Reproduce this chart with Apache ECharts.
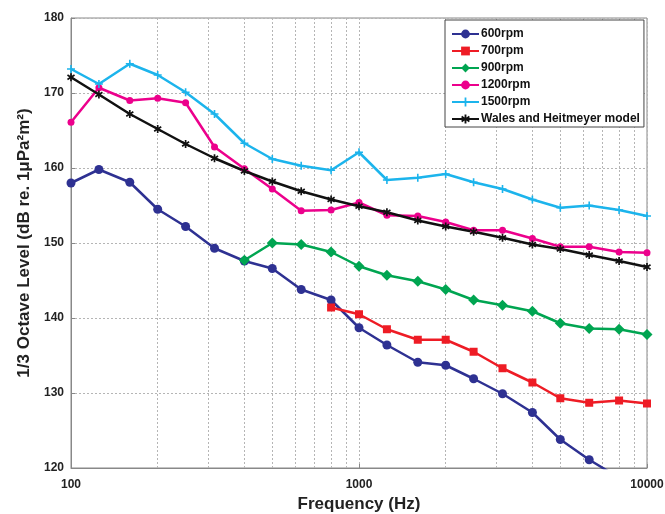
<!DOCTYPE html>
<html>
<head>
<meta charset="utf-8">
<script src="https://cdn.jsdelivr.net/npm/echarts@6/dist/echarts.min.js"></script>
<style>
  html, body { margin: 0; padding: 0; background: #fff; }
  #chart { width: 665px; height: 514px; }
</style>
</head>
<body>
<div id="chart"></div>
<script>
// 1/3 octave band centre frequencies (Hz)
var freqs = [100, 125, 160, 200, 250, 315, 400, 500, 630, 800, 1000, 1250, 1600, 2000, 2500, 3150, 4000, 5000, 6300, 8000, 10000];

var rpm600 = [158.0, 159.8, 158.1, 154.5, 152.2, 149.3, 147.6, 146.6, 143.8, 142.4, 138.7, 136.4, 134.1, 133.7, 131.9, 129.9, 127.4, 123.8, 121.1, 118.7, null];
var rpm700 = [null, null, null, null, null, null, null, null, null, 141.4, 140.5, 138.5, 137.1, 137.1, 135.5, 133.3, 131.4, 129.3, 128.7, 129.0, 128.6];
var rpm900 = [null, null, null, null, null, null, 147.7, 150.0, 149.8, 148.8, 146.9, 145.7, 144.9, 143.8, 142.4, 141.7, 140.9, 139.3, 138.6, 138.5, 137.8];
var rpm1200 = [166.1, 170.7, 169.0, 169.3, 168.7, 162.8, 159.9, 157.2, 154.3, 154.4, 155.4, 153.7, 153.6, 152.8, 151.7, 151.7, 150.6, 149.5, 149.5, 148.8, 148.7];
var rpm1500 = [173.2, 171.2, 173.9, 172.4, 170.1, 167.2, 163.3, 161.2, 160.3, 159.7, 162.1, 158.4, 158.7, 159.2, 158.1, 157.2, 155.8, 154.7, 155.0, 154.4, 153.6];
var wales = [172.1, 169.8, 167.2, 165.2, 163.2, 161.3, 159.6, 158.2, 156.9, 155.8, 154.9, 154.1, 153.0, 152.2, 151.5, 150.7, 149.8, 149.2, 148.4, 147.6, 146.8];

// minor log grid lines
var minorGrid = [200, 300, 400, 500, 600, 700, 800, 900, 2000, 3000, 4000, 5000, 6000, 7000, 8000, 9000];

var FONT = 'Liberation Sans, Arial, sans-serif';
var PLUS = 'path://M4,0H6V4H10V6H6V10H4V6H0V4H4Z';
var STAR = 'path://M4,0H6V3.2L8.6,1.4L9.7,3L7,5L9.7,7L8.6,8.6L6,6.8V10H4V6.8L1.4,8.6L0.3,7L3,5L0.3,3L1.4,1.4L4,3.2Z';

function pairs(vals) {
  var out = [];
  vals.forEach(function (v, i) { if (v != null) out.push([freqs[i], v]); });
  return out;
}

function mkSeries(name, vals, color, symbol, size) {
  return {
    name: name,
    type: 'line',
    data: pairs(vals),
    symbol: symbol,
    symbolSize: size,
    showSymbol: true,
    clip: true,
    itemStyle: { color: color },
    lineStyle: { color: color, width: 2.5 },
    z: 3
  };
}

var series = [
  mkSeries('600rpm', rpm600, '#2e3192', 'circle', 9),
  mkSeries('700rpm', rpm700, '#ee1c25', 'rect', 8),
  mkSeries('900rpm', rpm900, '#00a551', 'diamond', 11),
  mkSeries('1200rpm', rpm1200, '#ec008c', 'circle', 7),
  mkSeries('1500rpm', rpm1500, '#1cb4ec', PLUS, 8),
  mkSeries('Wales and Heitmeyer model', wales, '#111111', STAR, 8)
];

series[0].markLine = {
  silent: true,
  symbol: 'none',
  label: { show: false },
  lineStyle: { color: '#b5b5b5', type: [2, 2], width: 1 },
  data: minorGrid.map(function (f) { return { xAxis: f }; }),
  z: 1
};

var chart = echarts.init(document.getElementById('chart'));
chart.setOption({
  backgroundColor: '#fff',
  animation: false,
  grid: {
    left: 71, right: 18, top: 18, bottom: 46,
    outerBoundsMode: 'none',
    show: true, borderColor: '#888', borderWidth: 1
  },
  legend: {
    orient: 'vertical',
    left: 445,
    top: 20,
    padding: [8, 4, 2, 6],
    itemGap: 5,
    itemWidth: 27,
    itemHeight: 11,
    backgroundColor: '#fff',
    borderColor: '#444',
    borderWidth: 1,
    textStyle: { fontFamily: FONT, fontWeight: 'bold', fontSize: 12, color: '#111', padding: [0, 0, 0, -3] },
    data: series.map(function (s) { return s.name; })
  },
  xAxis: {
    type: 'log',
    logBase: 10,
    min: 100,
    max: 10000,
    name: 'Frequency (Hz)',
    nameLocation: 'middle',
    nameGap: 25,
    nameTextStyle: { fontFamily: FONT, fontWeight: 'bold', fontSize: 17, color: '#222' },
    axisLine: { lineStyle: { color: '#888' } },
    axisTick: { inside: true, length: 4, lineStyle: { color: '#888' } },
    axisLabel: {
      fontFamily: FONT, fontWeight: 'bold', fontSize: 12, color: '#222', margin: 11,
      formatter: function (v) { return String(Math.round(v)); }
    },
    splitLine: { show: true, lineStyle: { color: '#b5b5b5', type: [2, 2] } }
  },
  yAxis: {
    type: 'value',
    min: 120,
    max: 180,
    interval: 10,
    name: '1/3 Octave Level (dB re. 1\u03bcPa\u00b2m\u00b2)',
    nameLocation: 'middle',
    nameGap: 33,
    nameTextStyle: { fontFamily: FONT, fontWeight: 'bold', fontSize: 17, color: '#222' },
    axisLine: { show: true, lineStyle: { color: '#888' } },
    axisTick: { show: true, inside: true, length: 4, lineStyle: { color: '#888' } },
    axisLabel: { fontFamily: FONT, fontWeight: 'bold', fontSize: 12, color: '#222', margin: 7 },
    splitLine: { show: true, lineStyle: { color: '#b5b5b5', type: [2, 2] } }
  },
  series: series
});
</script>
</body>
</html>
